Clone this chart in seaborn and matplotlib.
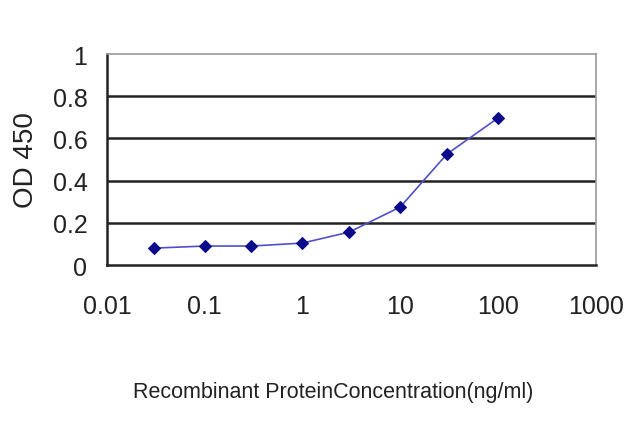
import matplotlib
matplotlib.use("Agg")
import matplotlib.pyplot as plt
import seaborn as sns
import pandas as pd
from matplotlib.ticker import FixedLocator, FixedFormatter, NullLocator

# %%
concentration = [0.03, 0.1, 0.3, 1, 3, 10, 30, 100]
od450 = [0.08, 0.09, 0.09, 0.104, 0.156, 0.275, 0.526, 0.697]
x_ticks = [0.01, 0.1, 1, 10, 100, 1000]
x_tick_labels = ["0.01", "0.1", "1", "10", "100", "1000"]
y_ticks = [0, 0.2, 0.4, 0.6, 0.8, 1]
y_tick_labels = ["0", "0.2", "0.4", "0.6", "0.8", "1"]

df = pd.DataFrame({"conc": concentration, "od": od450})

# %%
sns.set_style("white")
plt.rcParams["font.family"] = ["Liberation Sans", "DejaVu Sans"]

fig = plt.figure(figsize=(6.4, 4.27), dpi=100)
ax = fig.add_axes([0.167, 0.377, 0.764, 0.494])

for y in y_ticks[1:-1]:
    ax.axhline(y, color="#222222", lw=1.8, zorder=1)

sns.lineplot(
    data=df,
    x="conc",
    y="od",
    ax=ax,
    color="#5050c8",
    lw=1.2,
    marker="D",
    markersize=6.5,
    markerfacecolor="#0a0a8a",
    markeredgecolor="#0a0a8a",
    zorder=3,
)

ax.set_xscale("log")
ax.set_xlim(0.01, 1000)
ax.set_ylim(0, 1)
ax.xaxis.set_major_locator(FixedLocator(x_ticks))
ax.xaxis.set_major_formatter(FixedFormatter(x_tick_labels))
ax.xaxis.set_minor_locator(NullLocator())
ax.yaxis.set_major_locator(FixedLocator(y_ticks))
ax.yaxis.set_major_formatter(FixedFormatter(y_tick_labels))

ax.tick_params(axis="x", length=4, width=1, color="#444444", labelsize=18,
               labelcolor="#222222", pad=17)
ax.tick_params(axis="y", length=0, labelsize=18, labelcolor="#222222", pad=14)
# the axis title sits a little left of the plot centre in the original
ax.set_xlabel("Recombinant ProteinConcentration(ng/ml)", fontsize=15.5,
              color="#222222", labelpad=45, x=0.462)
ax.set_ylabel("OD 450", fontsize=20, color="#222222", labelpad=10)

for side in ["left", "bottom"]:
    ax.spines[side].set_color("#222222")
    ax.spines[side].set_linewidth(1.8)
for side in ["top", "right"]:
    ax.spines[side].set_color("#999999")
    ax.spines[side].set_linewidth(1.2)

plt.savefig("out.png", dpi=100)
